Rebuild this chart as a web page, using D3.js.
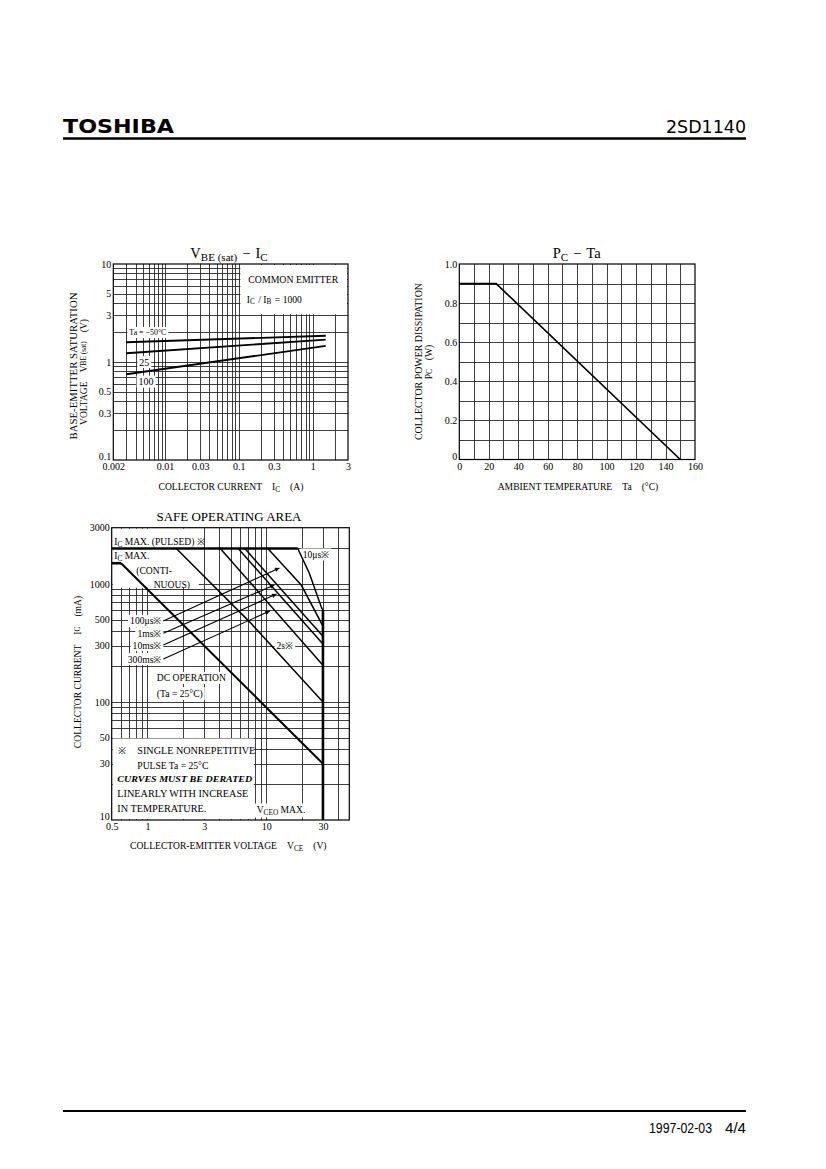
<!DOCTYPE html>
<html>
<head>
<meta charset="utf-8">
<script src="https://cdn.jsdelivr.net/npm/d3@7"></script>
<style>
  body { margin: 0; background: #fff; }
  svg { display: block; }
</style>
</head>
<body>
<script>
// VBE(sat) - IC  (IC in A, VBE in V)
const icVals = [0.003, 1.5];
const vbeM50 = [1.59, 1.85];
const vbe25 = [1.23, 1.69];
const vbe100 = [0.75, 1.46];
const xTicks1 = [0.002, 0.01, 0.03, 0.1, 0.3, 1, 3];
const yTicks1 = [0.1, 0.3, 0.5, 1, 3, 5, 10];

// PC - Ta  (Ta in degC, PC in W)
const taVals = [0, 25, 150];
const pcVals = [0.9, 0.9, 0];
const xTicks2 = [0, 20, 40, 60, 80, 100, 120, 140, 160];
const yTicks2 = [0, 0.2, 0.4, 0.6, 0.8, 1.0];

// Safe operating area  [VCE (V), IC (mA)]
const icPulsed = [[0.5, 2000], [18.4, 2000]];
const icCont = [[0.5, 1500], [0.6, 1500]];
const soaDC = [[0.6, 1500], [30, 30]];
const soa10us = [[18.4, 2000], [23, 1240], [29.2, 630], [30, 600]];
const soaVceo = [[30, 600], [30, 10]];
const soa100us = [[10.3, 2000], [19.7, 980], [30, 440]];
const soa1ms = [[6.6, 2000], [30, 360]];
const soa10ms = [[5.8, 2000], [30, 310]];
const soa300ms = [[4.1, 2000], [30, 205]];
const soa2s = [[1.75, 2000], [7.2, 480], [30, 100]];
const xTicks3 = [0.5, 1, 3, 10, 30];
const yTicks3 = [10, 30, 50, 100, 300, 500, 1000, 3000];

// arrow call-outs on the SOA chart
const arrowNames = ["100\u03bcs\u203b", "1ms\u203b", "10ms\u203b", "300ms\u203b"];
const arrowFromI = [486, 382, 304, 231];
const arrowTipV = [12.9, 11.7, 12.2, 10.7];
const arrowTipI = [1368, 982, 822, 590];

const W = 826, H = 1169;
const SERIF = "'Liberation Serif', 'DejaVu Serif', serif";
const svg = d3.select("body").append("svg").attr("width", W).attr("height", H);
svg.append("rect").attr("width", W).attr("height", H).attr("fill", "#fff");

const defs = svg.append("defs");
defs.append("marker").attr("id", "arr")
  .attr("viewBox", "0 0 10 10").attr("refX", 10).attr("refY", 5)
  .attr("markerWidth", 7).attr("markerHeight", 4.5)
  .attr("markerUnits", "userSpaceOnUse").attr("orient", "auto")
  .append("path").attr("d", "M0,0L10,5L0,10z").attr("fill", "#000");

// ---------- header / footer
svg.append("text").attr("x", 63).attr("y", 132.5)
  .attr("font-family", "'DejaVu Sans', sans-serif").attr("font-weight", "bold")
  .attr("font-size", 20).attr("textLength", 111).attr("lengthAdjust", "spacingAndGlyphs")
  .text("TOSHIBA");
svg.append("text").attr("x", 746).attr("y", 132.5).attr("text-anchor", "end")
  .attr("font-family", "'DejaVu Sans', sans-serif").attr("font-size", 17)
  .attr("textLength", 80).attr("lengthAdjust", "spacingAndGlyphs")
  .text("2SD1140");
svg.append("line").attr("x1", 63).attr("x2", 746).attr("y1", 138.5).attr("y2", 138.5)
  .attr("stroke", "#000").attr("stroke-width", 2.6);
svg.append("line").attr("x1", 63).attr("x2", 746).attr("y1", 1111).attr("y2", 1111)
  .attr("stroke", "#000").attr("stroke-width", 2);
svg.append("text").attr("x", 649).attr("y", 1133)
  .attr("font-family", "'Liberation Sans Narrow', 'Liberation Sans', sans-serif").attr("font-size", 14)
  .attr("textLength", 63).attr("lengthAdjust", "spacingAndGlyphs").text("1997-02-03");
svg.append("text").attr("x", 746).attr("y", 1133).attr("text-anchor", "end")
  .attr("font-family", "'Liberation Sans Narrow', 'Liberation Sans', sans-serif").attr("font-size", 14)
  .attr("textLength", 21).attr("lengthAdjust", "spacingAndGlyphs").text("4/4");

// ---------- helpers
function rich(sel, parts, size) {
  let shift = 0;
  parts.forEach(p => {
    const str = p[0], kind = p[1] || "", dx = p[2] || 0;
    const s = sel.append("tspan").text(str);
    const want = kind === "sub" ? size * 0.2 : 0;
    if (want !== shift) { s.attr("dy", want - shift); shift = want; }
    if (kind) s.attr("font-size", size * 0.76);
    if (dx) s.attr("dx", dx);
  });
}

function txt(layer, x, y, parts, o = {}) {
  const size = o.size || 9.6;
  const t = layer.append("text").attr("x", x).attr("y", y)
    .attr("font-family", SERIF).attr("font-size", size)
    .attr("text-anchor", o.anchor || "start").attr("fill", "#000");
  if (o.rotate) t.attr("transform", `rotate(-90 ${x} ${y})`);
  if (o.central) t.attr("dominant-baseline", "central");
  if (o.weight) t.attr("font-weight", o.weight);
  if (o.italic) t.attr("font-style", "italic");
  if (typeof parts === "string") t.text(parts); else rich(t, parts, size);
  if (o.len) t.attr("textLength", o.len).attr("lengthAdjust", "spacingAndGlyphs");
  if (o.bg) {
    const b = t.node().getBBox();
    o.bg.append("rect").attr("x", b.x - 2).attr("y", b.y - 0.5)
      .attr("width", b.width + 4).attr("height", b.height + 1).attr("fill", "#fff");
  }
  return t;
}

function grid(g, x, y) {
  const [x0, x1] = x.range(), [y0, y1] = y.range();
  const xv = x.ticks(x.domain()[1] > 100 ? 16 : 10).filter(v => x(v) > x0 + 1 && x(v) < x1 - 1);
  const yv = y.ticks(10).filter(v => y(v) < y0 - 1 && y(v) > y1 + 1);
  g.append("g").attr("transform", `translate(0,${y0})`)
    .call(d3.axisBottom(x).tickValues(xv).tickSize(-(y0 - y1)).tickFormat(""))
    .call(a => a.select(".domain").remove());
  g.append("g").attr("transform", `translate(${x0},0)`)
    .call(d3.axisLeft(y).tickValues(yv).tickSize(-(x1 - x0)).tickFormat(""))
    .call(a => a.select(".domain").remove());
  g.selectAll(".tick line").attr("stroke", "#2a2a2a").attr("stroke-width", 0.9)
    .attr("shape-rendering", "crispEdges");
}

function tickLabels(g, x, y, xv, yv, fx, fy) {
  const [x0] = x.range(), [y0] = y.range();
  g.append("g").attr("transform", `translate(0,${y0})`)
    .call(d3.axisBottom(x).tickValues(xv).tickSize(0).tickPadding(3).tickFormat(fx))
    .call(a => a.select(".domain").remove());
  const ya = g.append("g").attr("transform", `translate(${x0},0)`)
    .call(d3.axisLeft(y).tickValues(yv).tickSize(0).tickPadding(2).tickFormat(fy))
    .call(a => a.select(".domain").remove());
  // lowest y label sits a little above the corner, as in the print
  ya.selectAll(".tick text").filter(d => d === yv[0]).attr("dy", "-0.05em");
  g.selectAll(".tick text").attr("font-family", SERIF).attr("font-size", 10).attr("fill", "#000");
}

function frame(g, x, y) {
  const [x0, x1] = x.range(), [y0, y1] = y.range();
  g.append("rect").attr("x", x0).attr("y", y1).attr("width", x1 - x0).attr("height", y0 - y1)
    .attr("fill", "none").attr("stroke", "#000").attr("stroke-width", 1.2);
}

function layers() {
  const g = svg.append("g");
  return { grid: g.append("g"), bg: g.append("g"), curve: g.append("g"), text: g.append("g"), top: g };
}

// ---------- chart 1 : VBE(sat) - IC
{
  const x = d3.scaleLog().domain([0.002, 3]).range([113.3, 348]);
  const y = d3.scaleLog().domain([0.1, 10]).range([460, 264]);
  const L = layers();
  grid(L.grid, x, y);
  // white box behind the legend text
  L.bg.append("rect").attr("x", x(0.1) + 1.5).attr("y", y(10) + 1)
    .attr("width", x(3) - x(0.1) - 2.5).attr("height", y(3) - y(10) - 2).attr("fill", "#fff");

  const line = d3.line().x(d => x(d[0])).y(d => y(d[1]));
  [vbeM50, vbe25, vbe100].forEach(s => {
    L.curve.append("path").datum(icVals.map((v, i) => [v, s[i]])).attr("d", line)
      .attr("fill", "none").attr("stroke", "#000").attr("stroke-width", 1.9);
  });

  txt(L.text, x(0.0033), y(2.0), "Ta = \u221250\u00b0C", { central: true, size: 9, len: 37, bg: L.bg });
  txt(L.text, x(0.0045), y(1.0), "25", { central: true, size: 10, bg: L.bg });
  txt(L.text, x(0.0044), y(0.63), "100", { central: true, size: 10, bg: L.bg });

  txt(L.text, x(0.1) + 9.5, y(10) + 19, "COMMON EMITTER", { len: 90 });
  txt(L.text, x(0.1) + 8, y(10) + 38.5, [["I"], ["C", "sub"], [" / I", "", 1], ["B", "sub"], [" = 1000", "", 1]]);

  tickLabels(L.top, x, y, xTicks1, yTicks1, d => String(d), d => String(d));
  frame(L.top, x, y);

  txt(L.text, 229, 258, [["V"], ["BE (sat)", "sub"], ["\u2212", "", 5], ["I", "", 5], ["C", "sub"]], { anchor: "middle", size: 14.5 });
  txt(L.text, 231, 490, [["COLLECTOR CURRENT"], ["I", "", 10], ["C", "sub"], ["(A)", "", 10]], { anchor: "middle" });
  txt(L.text, 73.3, 366, "BASE-EMITTER SATURATION", { anchor: "middle", rotate: true, central: true, len: 147 });
  txt(L.text, 82.5, 372, [["VOLTAGE"], ["V", "", 9], ["BE (sat)", "sub"], ["(V)", "", 9]], { anchor: "middle", rotate: true, central: true });
}

// ---------- chart 2 : PC - Ta
{
  const x = d3.scaleLinear().domain([0, 160]).range([459.3, 695]);
  const y = d3.scaleLinear().domain([0, 1]).range([459.5, 264]);
  const L = layers();
  grid(L.grid, x, y);
  const line = d3.line().x(d => x(d[0])).y(d => y(d[1]));
  L.curve.append("path").datum(taVals.map((v, i) => [v, pcVals[i]])).attr("d", line)
    .attr("fill", "none").attr("stroke", "#000").attr("stroke-width", 1.7);

  tickLabels(L.top, x, y, xTicks2, yTicks2, d => String(d), d => d === 0 ? "0" : d.toFixed(1));
  frame(L.top, x, y);

  txt(L.text, 576.7, 258, [["P"], ["C", "sub"], ["\u2212", "", 5], ["Ta", "", 5]], { anchor: "middle", size: 14.5 });
  txt(L.text, 578, 490, [["AMBIENT TEMPERATURE"], ["Ta", "", 10], ["(\u00b0C)", "", 10]], { anchor: "middle" });
  txt(L.text, 418.3, 361.5, "COLLECTOR POWER DISSIPATION", { anchor: "middle", rotate: true, central: true, len: 157 });
  txt(L.text, 427.7, 362, [["P"], ["C", "sub"], ["(W)", "", 9]], { anchor: "middle", rotate: true, central: true });
}

// ---------- chart 3 : safe operating area
{
  const x = d3.scaleLog().domain([0.5, 50]).range([111.7, 349.3]);
  const y = d3.scaleLog().domain([10, 3000]).range([820, 527.7]);
  const L = layers();
  grid(L.grid, x, y);

  // blank areas carrying the notes
  L.bg.append("rect").attr("x", x(0.5) + 1).attr("y", y(3000) + 1)
    .attr("width", x(2.7) - x(0.5) - 1).attr("height", y(930) - y(3000) - 1).attr("fill", "#fff");
  L.bg.append("rect").attr("x", x(0.5) + 1).attr("y", y(50) + 1)
    .attr("width", x(8) - x(0.5) - 2).attr("height", y(10) - y(50) - 2).attr("fill", "#fff");

  const line = d3.line().x(d => x(d[0])).y(d => y(d[1]));
  const thin = [soa10us, soa100us, soa1ms, soa10ms, soa300ms, soa2s];
  thin.forEach(s => L.curve.append("path").datum(s).attr("d", line)
    .attr("fill", "none").attr("stroke", "#000").attr("stroke-width", 1.5));
  L.curve.append("path").datum(soaDC).attr("d", line)
    .attr("fill", "none").attr("stroke", "#000").attr("stroke-width", 2);
  [icPulsed, icCont, soaVceo].forEach(s => L.curve.append("path").datum(s).attr("d", line)
    .attr("fill", "none").attr("stroke", "#000").attr("stroke-width", 2.6));

  arrowNames.forEach((name, i) => {
    L.curve.append("line")
      .attr("x1", x(1.36)).attr("y1", y(arrowFromI[i]))
      .attr("x2", x(arrowTipV[i])).attr("y2", y(arrowTipI[i]))
      .attr("stroke", "#000").attr("stroke-width", 1.1).attr("marker-end", "url(#arr)");
    txt(L.text, x(1.31), y(arrowFromI[i]), name, { anchor: "end", central: true, bg: L.bg });
  });

  txt(L.text, x(0.5) + 2.5, y(2000) - 3.5, [["I"], ["C", "sub"], [" MAX. (PULSED) \u203b"]]);
  txt(L.text, x(0.5) + 2.5, y(2000) + 11, [["I"], ["C", "sub"], [" MAX."]]);
  txt(L.text, x(0.5) + 24.5, y(2000) + 26, "(CONTI-");
  txt(L.text, x(0.5) + 42, y(2000) + 39.5, "NUOUS)");
  txt(L.text, x(18.4) + 5, y(2000) + 9.5, "10\u03bcs\u203b", { bg: L.bg });
  txt(L.text, x(12.2), y(300), "2s\u203b", { central: true, bg: L.bg });
  txt(L.text, x(1.2), y(160), "DC OPERATION", { central: true, bg: L.bg });
  txt(L.text, x(1.2), y(119), "(Ta = 25\u00b0C)", { central: true, bg: L.bg });

  const bx = x(0.5), by = y(50);
  txt(L.text, bx + 6, by + 16.5, "\u203b");
  txt(L.text, bx + 25.6, by + 16.5, "SINGLE NONREPETITIVE", { len: 118 });
  txt(L.text, bx + 25.6, by + 31.5, "PULSE Ta = 25\u00b0C");
  txt(L.text, bx + 5.6, by + 44.5, "CURVES MUST BE DERATED", { size: 7.5, weight: "bold", italic: true, len: 135 });
  txt(L.text, bx + 5.6, by + 59.5, "LINEARLY WITH INCREASE", { len: 131 });
  txt(L.text, bx + 5.6, by + 74.5, "IN TEMPERATURE.", { len: 89 });
  txt(L.text, x(8.3), by + 75.5, [["V"], ["CEO", "sub"], [" MAX."]], { bg: L.bg });

  tickLabels(L.top, x, y, xTicks3, yTicks3, d => String(d), d => String(d));
  frame(L.top, x, y);

  txt(L.text, 229, 521, "SAFE OPERATING AREA", { anchor: "middle", size: 12.5, len: 145 });
  txt(L.text, 228.3, 849, [["COLLECTOR-EMITTER VOLTAGE"], ["V", "", 10], ["CE", "sub"], ["(V)", "", 10]], { anchor: "middle" });
  txt(L.text, 76.5, 672, [["COLLECTOR CURRENT"], ["I", "", 10], ["C", "sub"], ["(mA)", "", 10]], { anchor: "middle", rotate: true, central: true });
}
</script>
</body>
</html>
